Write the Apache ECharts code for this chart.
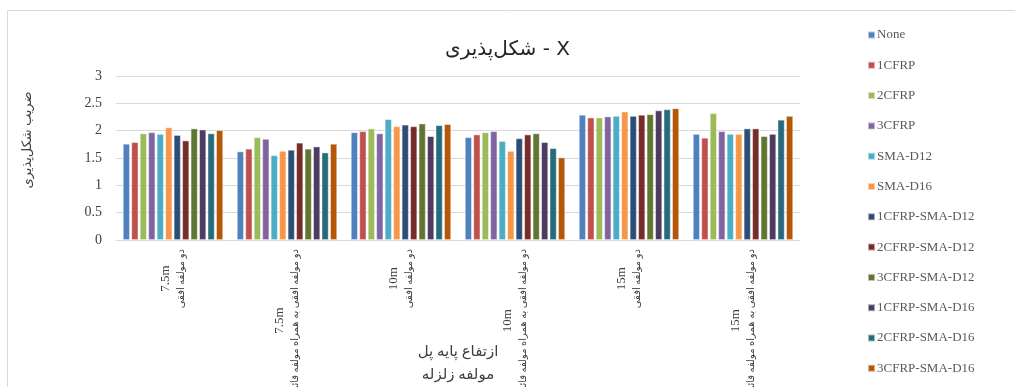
<!DOCTYPE html>
<html>
<head>
<meta charset="utf-8">
<script src="https://cdn.jsdelivr.net/npm/echarts@6/dist/echarts.min.js"></script>
<style>
  html, body { margin: 0; padding: 0; background: #fff; }
  #chart { width: 1015px; height: 387px; }
</style>
</head>
<body>
<div id="chart"></div>
<script>
// Pier heights and earthquake components for each category
const heights = ['7.5m', '7.5m', '10m', '10m', '15m', '15m'];
const components = [
  'دو مولفه افقی',
  'دو مولفه افقی به همراه مولفه قائم',
  'دو مولفه افقی',
  'دو مولفه افقی به همراه مولفه قائم',
  'دو مولفه افقی',
  'دو مولفه افقی به همراه مولفه قائم'
];

// Retrofit cases (one series each)
const seriesNames = [
  'None', '1CFRP', '2CFRP', '3CFRP', 'SMA-D12', 'SMA-D16',
  '1CFRP-SMA-D12', '2CFRP-SMA-D12', '3CFRP-SMA-D12',
  '1CFRP-SMA-D16', '2CFRP-SMA-D16', '3CFRP-SMA-D16'
];

// Ductility factor values, one array per retrofit case (6 categories each)
const none        = [1.76, 1.62, 1.97, 1.88, 2.29, 1.94];
const cfrp1       = [1.79, 1.67, 1.99, 1.93, 2.24, 1.87];
const cfrp2       = [1.95, 1.88, 2.04, 1.97, 2.24, 2.32];
const cfrp3       = [1.97, 1.85, 1.95, 1.99, 2.26, 1.99];
const smaD12      = [1.94, 1.55, 2.21, 1.81, 2.27, 1.94];
const smaD16      = [2.06, 1.63, 2.08, 1.63, 2.35, 1.94];
const cfrp1SmaD12 = [1.92, 1.65, 2.11, 1.86, 2.27, 2.04];
const cfrp2SmaD12 = [1.82, 1.78, 2.08, 1.93, 2.29, 2.04];
const cfrp3SmaD12 = [2.04, 1.67, 2.13, 1.95, 2.30, 1.90];
const cfrp1SmaD16 = [2.02, 1.71, 1.90, 1.79, 2.37, 1.94];
const cfrp2SmaD16 = [1.95, 1.60, 2.10, 1.68, 2.39, 2.20];
const cfrp3SmaD16 = [2.01, 1.76, 2.12, 1.51, 2.41, 2.27];

const seriesValues = [
  none, cfrp1, cfrp2, cfrp3, smaD12, smaD16,
  cfrp1SmaD12, cfrp2SmaD12, cfrp3SmaD12,
  cfrp1SmaD16, cfrp2SmaD16, cfrp3SmaD16
];

const yTicks = ['0', '0.5', '1', '1.5', '2', '2.5', '3'];

const palette = [
  '#4F81BD', '#C0504D', '#9BBB59', '#8064A2', '#4BACC6', '#F79646',
  '#2C4D75', '#772C2A', '#5F7530', '#4D3B62', '#276A7C', '#B65708'
];

const categories = heights.map((h, i) => h + '|' + components[i]);

const serif = "'Liberation Serif', 'Times New Roman', 'DejaVu Sans', serif";
const sans = "'DejaVu Sans', 'Noto Sans', sans-serif";

const chart = echarts.init(document.getElementById('chart'), null, { renderer: 'canvas' });

chart.setOption({
  animation: false,
  backgroundColor: '#ffffff',
  color: palette,
  title: {
    text: 'شکل‌پذیری - X',
    left: 'center',
    top: 35,
    textStyle: { fontFamily: sans, fontSize: 20, fontWeight: 'normal', color: '#262626' }
  },
  legend: {
    orient: 'vertical',
    left: 862,
    top: 23,
    itemWidth: 7,
    itemHeight: 7,
    itemGap: 16.3,
    icon: 'rect',
    data: seriesNames,
    textStyle: { fontFamily: serif, fontSize: 13, color: '#595959', lineHeight: 14, padding: [0, 0, 0, -3] }
  },
  grid: {
    left: 116, right: 215, top: 76, bottom: 147,
    containLabel: false,
    outerBoundsMode: 'none'
  },
  xAxis: {
    type: 'category',
    data: categories,
    axisLine: { lineStyle: { color: '#d9d9d9', width: 1 } },
    axisTick: { show: false },
    name: 'ازتفاع پایه پل\nمولفه زلزله',
    nameLocation: 'middle',
    nameGap: 101,
    nameMoveOverlap: false,
    nameTextStyle: { fontFamily: serif, fontSize: 15, color: '#404040', lineHeight: 23 },
    axisLabel: {
      interval: 0,
      rotate: 90,
      margin: 9,
      formatter: (v) => {
        const parts = v.split('|');
        return '{h|' + parts[0] + '}\n{c|' + parts[1] + '}';
      },
      rich: {
        h: { fontFamily: serif, fontSize: 13, lineHeight: 16, color: '#404040', align: 'center' },
        c: { fontFamily: serif, fontSize: 10, lineHeight: 14, color: '#404040', align: 'center' }
      }
    }
  },
  yAxis: {
    type: 'value',
    min: 0,
    max: 3,
    interval: 0.5,
    axisLine: { show: false },
    axisTick: { show: false },
    splitLine: { lineStyle: { color: '#d9d9d9', width: 1 } },
    axisLabel: {
      margin: 14,
      fontFamily: serif,
      fontSize: 14,
      color: '#404040',
      formatter: (v) => yTicks[Math.round(v / 0.5)]
    }
  },
  graphic: [
    {
      type: 'rect',
      shape: { x: 7.5, y: 10.5, width: 1100, height: 500 },
      style: { fill: 'none', stroke: '#d9d9d9', lineWidth: 1 },
      silent: true,
      z: -1
    },
    {
      type: 'text',
      x: 28,
      y: 140,
      rotation: Math.PI / 2,
      style: {
        text: 'ضریب شکل‌پذیری',
        fontFamily: serif,
        fontSize: 13,
        fill: '#404040',
        align: 'center',
        verticalAlign: 'middle'
      }
    }
  ],
  series: seriesNames.map((name, i) => ({
    name,
    type: 'bar',
    data: seriesValues[i],
    barGap: '20%',
    barCategoryGap: '12%',
    itemStyle: { borderColor: 'rgba(255,255,255,0.55)', borderWidth: 0.8 }
  }))
});
</script>
</body>
</html>
